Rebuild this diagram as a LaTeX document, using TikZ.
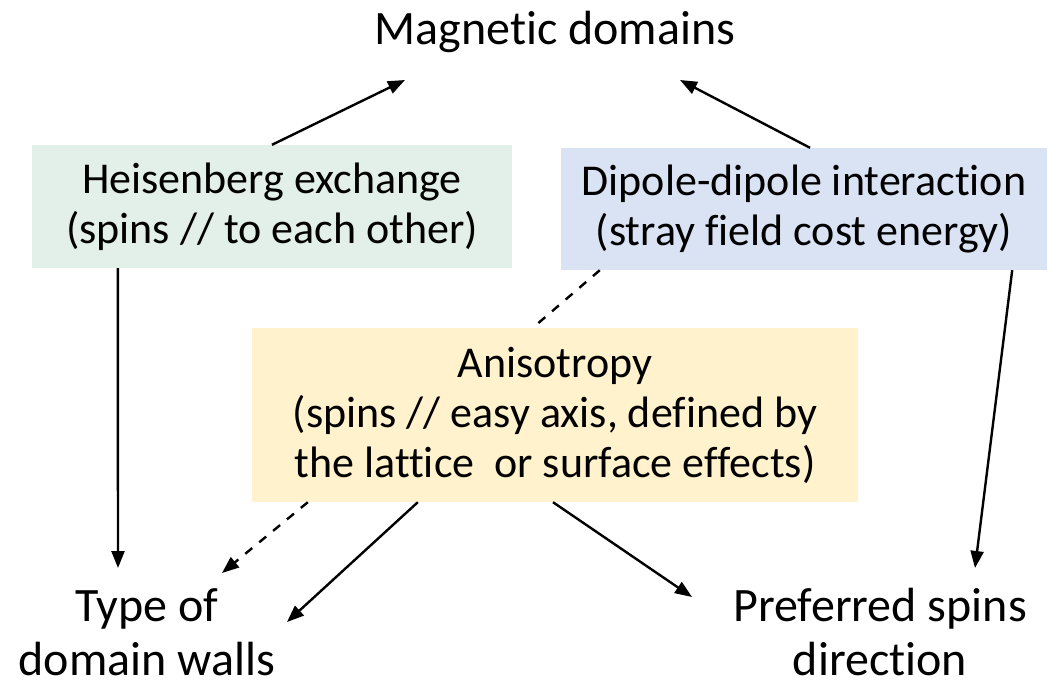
\documentclass[tikz,border=0pt]{standalone}
\usepackage{fontspec}
\setmainfont{Carlito}[Ligatures=NoCommon]
\usetikzlibrary{arrows.meta}
\definecolor{heisgreen}{RGB}{227,239,233}
\definecolor{dipblue}{RGB}{218,227,243}
\definecolor{anisoyellow}{RGB}{255,242,204}
\begin{document}
\begin{tikzpicture}[x=1pt,y=-1pt,>={Triangle[length=17pt,width=13pt]},
    box/.style={inner sep=0pt,align=center,font=\fontsize{44}{50}\selectfont},
    lbl/.style={inner sep=0pt,font=\fontsize{48}{54}\selectfont},
    conn/.style={line width=2.4pt}]
    \useasboundingbox (0,0) rectangle (1063,690);
    \node[lbl] (mag) at (555,32) {Magnetic domains};
    \node[box,fill=heisgreen,minimum width=480pt,minimum height=123pt] (heis) at (272,206.5)
      {Heisenberg exchange\\(spins // to each other)};
    \node[box,fill=dipblue,minimum width=486pt,minimum height=122pt] (dip) at (804,209)
      {Dipole-dipole interaction\\(stray field cost energy)};
    \node[box,fill=anisoyellow,minimum width=606pt,minimum height=174pt] (aniso) at (555,415)
      {Anisotropy\\(spins // easy axis, defined by\\the lattice\ \ or surface effects)};
    \node[lbl,align=center] (walls) at (147,632) {Type of\\domain walls};
    \node[lbl,align=center] (pref) at (880,632) {Preferred spins\\direction};
    % free ends of the arrows
    \coordinate (magL) at (405,80);
    \coordinate (magR) at (680,80);
    \coordinate (wallsA) at (118,568);
    \coordinate (wallsB) at (222,573);
    \coordinate (wallsC) at (287,622);
    \coordinate (prefA) at (975,568);
    \coordinate (prefB) at (692,597);
    \draw[->,conn] (heis.north) -- (magL);
    \draw[->,conn] ([xshift=6pt]dip.north) -- (magR);
    \draw[->,conn] ([xshift=86pt]heis.south west) -- (wallsA);
    \draw[->,conn] ([xshift=-35pt]dip.south east) -- (prefA);
    \draw[conn,dash pattern=on 9pt off 9pt] ([xshift=39pt]dip.south west) -- ([xshift=281pt]aniso.north west);
    \draw[->,conn,dash pattern=on 9pt off 9pt] ([xshift=56pt]aniso.south west) -- (wallsB);
    \draw[->,conn] ([xshift=166pt]aniso.south west) -- (wallsC);
    \draw[->,conn] ([xshift=-2pt]aniso.south) -- (prefB);
\end{tikzpicture}
\end{document}
